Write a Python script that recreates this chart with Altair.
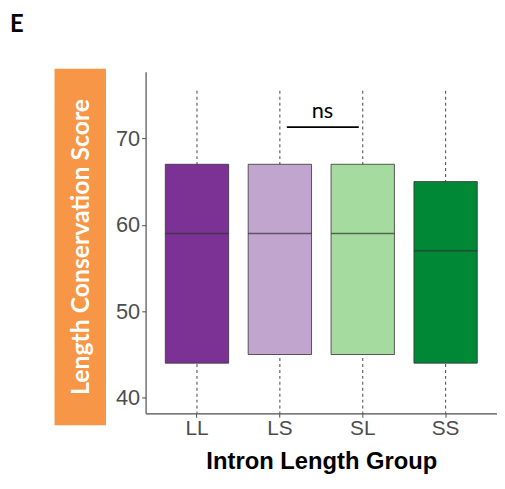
import altair as alt
import pandas as pd

groups = ["LL", "LS", "SL", "SS"]
q1 = [44, 45, 45, 44]
median = [59, 59, 59, 57]
q3 = [67, 67, 67, 65]
whisker_high = [75.7, 75.7, 75.7, 75.7]
whisker_low = [36, 36, 36, 36]
colors = ["#7b3294", "#c2a5cf", "#a6dba0", "#008837"]

sig_from, sig_to, sig_y, sig_label = "LS", "SL", 71.3, "ns"

df = pd.DataFrame({"group": groups, "q1": q1, "median": median, "q3": q3,
                   "wlo": whisker_low, "whi": whisker_high})

YDOM = [38.2, 77.7]
xenc = alt.X("group:N", sort=groups,
             scale=alt.Scale(paddingInner=0, paddingOuter=0.12),
             axis=alt.Axis(title="Intron Length Group", labelAngle=0,
                           labelFontSize=21, labelColor="#4d4d4d", labelFont="Liberation Sans",
                           tickColor="#4d4d4d", tickSize=4, domainColor="#4d4d4d",
                           domainWidth=1.2, labelPadding=0,
                           titleFontSize=24, titleFont="Liberation Sans", titleFontWeight="bold",
                           titleColor="#000000", titlePadding=12))
yscale = alt.Scale(domain=YDOM, nice=False, zero=False)
yaxis = alt.Axis(title=None, values=[40, 50, 60, 70], labelFontSize=22,
                 labelColor="#4d4d4d", labelFont="Liberation Sans", tickColor="#4d4d4d",
                 tickSize=4, domainColor="#4d4d4d", domainWidth=1.2, grid=False, labelPadding=2)

base = alt.Chart(df)

whiskers = base.mark_rule(clip=True, strokeDash=[3, 3], color="#555555", strokeWidth=1.1).encode(
    x=xenc, y=alt.Y("wlo:Q", scale=yscale, axis=yaxis), y2="whi:Q")

boxes = base.mark_bar(size=64, stroke="#333333", strokeWidth=0.8).encode(
    x=alt.X("group:N", sort=groups), y=alt.Y("q1:Q"), y2="q3:Q",
    fill=alt.Fill("group:N", scale=alt.Scale(domain=groups, range=colors), legend=None))

medians = base.mark_tick(size=64, thickness=1.6, color="#333333").encode(
    x=alt.X("group:N", sort=groups), y=alt.Y("median:Q"))

sig_df = pd.DataFrame({"a": [sig_from], "b": [sig_to], "y": [sig_y], "label": [sig_label]})
sig_line = alt.Chart(sig_df).mark_rule(color="#000000", strokeWidth=2, xOffset=7, x2Offset=-4).encode(
    x=alt.X("a:N", sort=groups), x2="b:N", y="y:Q")
sig_text = alt.Chart(sig_df).mark_text(fontSize=22, font="Lato", color="#000000",
                                       baseline="bottom", dy=-4, dx=43).encode(
    x=alt.X("a:N", sort=groups), y="y:Q", text="label:N")

one = alt.Data(values=[{"k": 1}])
title_box = alt.Chart(one).mark_rect(color="#f79646").encode(
    x=alt.value(-92), x2=alt.value(-40), y=alt.value(-3), y2=alt.value(357))
title_txt = alt.Chart(one).mark_text(angle=270, fontSize=25, font="Lato", fontWeight="bold",
                                     color="#ffffff", baseline="middle", align="center").encode(
    x=alt.value(-65), y=alt.value(177), text=alt.value("Length Conservation Score"))
panel = alt.Chart(one).mark_text(fontSize=24, font="Lato", fontWeight="bold", color="#000000",
                                 align="left", baseline="top").encode(
    x=alt.value(-137), y=alt.value(-59), text=alt.value("E"))

chart = alt.layer(whiskers, boxes, medians, sig_line, sig_text, title_box, title_txt, panel).properties(
    width=355, height=345,
    autosize=alt.AutoSizeParams(type="none"),
    padding={"left": 139, "top": 62, "right": 0, "bottom": 70},
    background="#ffffff",
).configure_view(stroke=None)

chart.save("out.html", embed_options={"renderer": "svg", "actions": False})
